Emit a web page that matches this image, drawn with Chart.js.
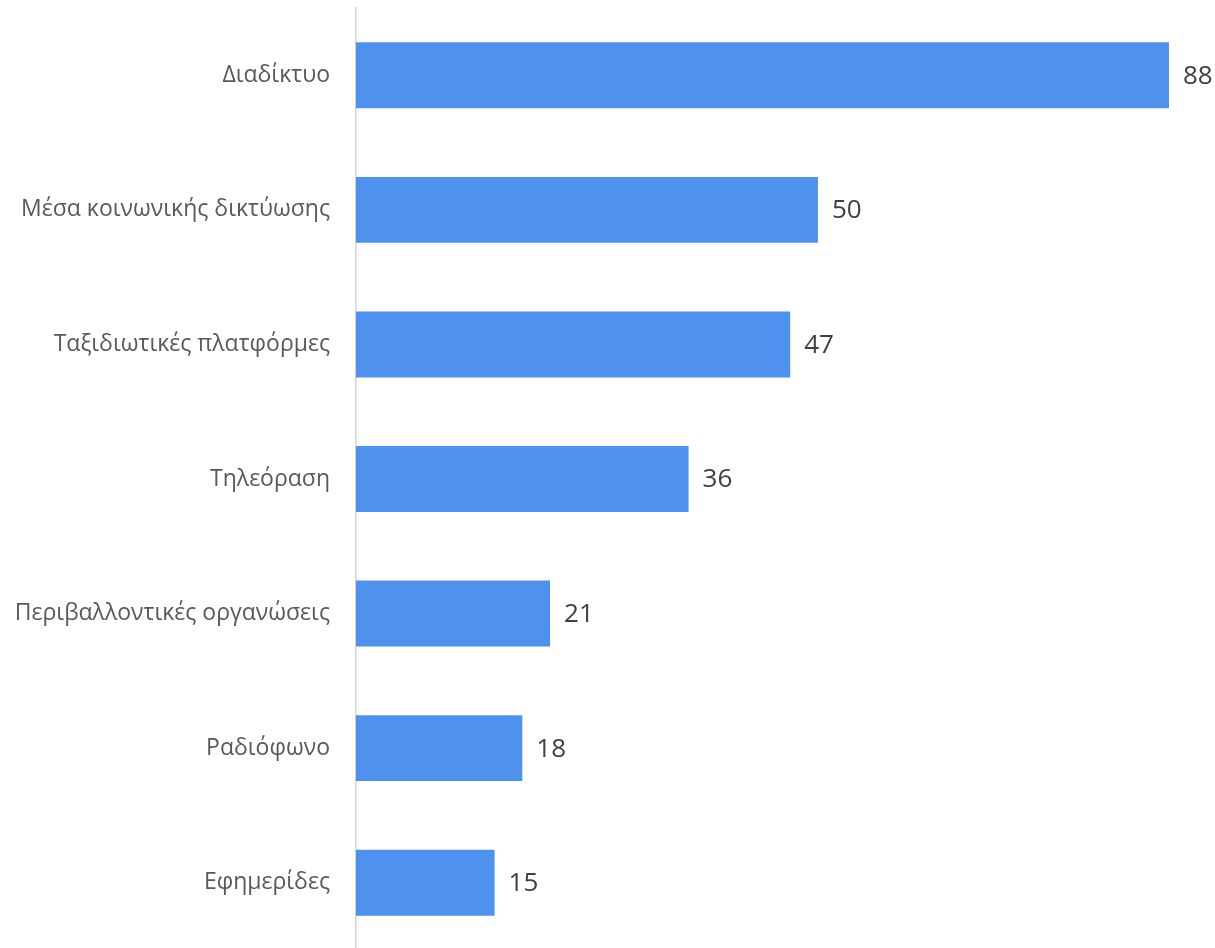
<!DOCTYPE html>
<html>
<head>
<meta charset="utf-8">
<script src="https://cdn.jsdelivr.net/npm/chart.js@4/dist/chart.umd.min.js"></script>
<style>
  html, body { margin: 0; padding: 0; background: #fff; overflow: hidden; }
  #wrap { width: 1215px; height: 950px; position: relative; }
</style>
</head>
<body>
<div id="wrap"><canvas id="SourceChart"></canvas></div>
<script>
var categories = [
    "Διαδίκτυο",
    "Μέσα κοινωνικής δικτύωσης",
    "Ταξιδιωτικές πλατφόρμες",
    "Τηλεόραση",
    "Περιβαλλοντικές οργανώσεις",
    "Ραδιόφωνο",
    "Εφημερίδες"
];
var values = [88, 50, 47, 36, 21, 18, 15];
var valueLabels = ["88", "50", "47", "36", "21", "18", "15"];

// draws the number to the right of each bar
var barValuePlugin = {
    id: 'barValues',
    afterDatasetsDraw: function(chart) {
        var ctx = chart.ctx;
        var meta = chart.getDatasetMeta(0);
        ctx.save();
        ctx.font = '26px "Open Sans"';
        ctx.fillStyle = '#404040';
        ctx.textAlign = 'left';
        ctx.textBaseline = 'middle';
        meta.data.forEach(function(bar, i) {
            ctx.fillText(valueLabels[i], bar.x + 14, bar.y + 1);
        });
        ctx.restore();
    }
};

var config = {
    type: 'bar',
    data: {
        labels: categories,
        datasets: [{
            data: values,
            backgroundColor: '#4F91EF',
            barPercentage: 0.49,
            categoryPercentage: 1.0
        }]
    },
    plugins: [barValuePlugin],
    options: {
        indexAxis: 'y',
        responsive: true,
        maintainAspectRatio: false,
        animation: false,
        layout: {
            padding: { top: 8, right: 46, bottom: 0, left: 0 }
        },
        plugins: {
            legend: { display: false },
            tooltip: { enabled: false }
        },
        scales: {
            x: {
                display: false,
                min: 0,
                max: 88
            },
            y: {
                afterFit: function(scale) {
                    scale.width = 356;
                    scale.paddingTop = 0;
                    scale.paddingBottom = 0;
                },
                grid: { display: false, drawTicks: false },
                border: { display: true, color: '#d4d4d4', width: 1.5 },
                ticks: {
                    padding: 26,
                    color: '#595959',
                    font: { family: '"Open Sans"', size: 23 }
                }
            }
        }
    }
};

new Chart(document.getElementById('SourceChart'), config);
</script>
</body>
</html>
